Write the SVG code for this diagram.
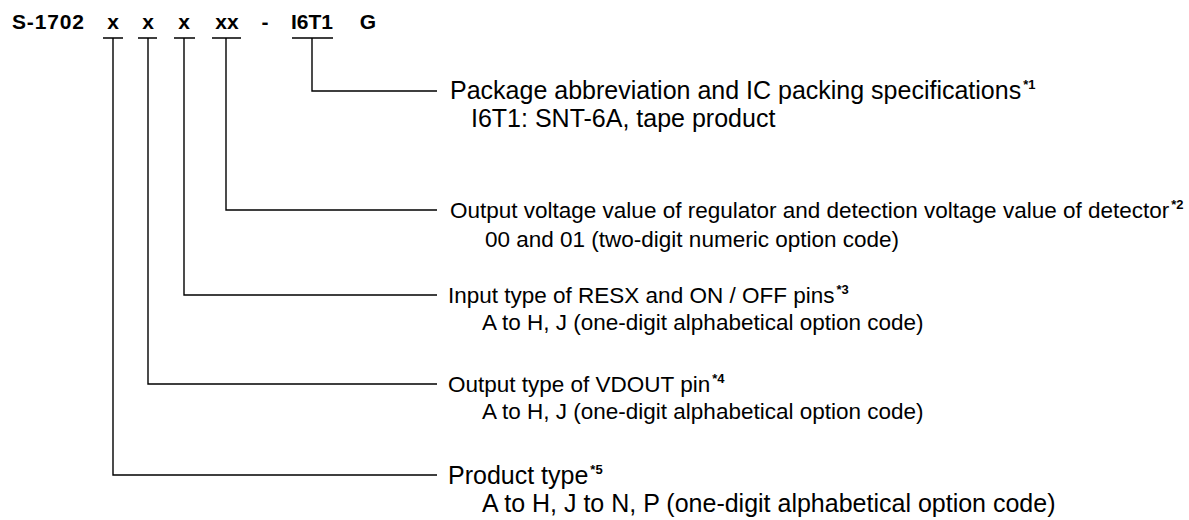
<svg xmlns="http://www.w3.org/2000/svg" width="1189" height="520" viewBox="0 0 1189 520">
<style>
text{font-family:"Liberation Sans",Arial,sans-serif;fill:#000}
.h{font-weight:bold;font-size:21px}
.t{font-size:22.5px}
.big{font-size:25px}
.sup{font-weight:bold;font-size:13px}
.ln{stroke:#000;stroke-width:1.4;fill:none}
</style>
<rect width="1189" height="520" fill="#fff"/>
<g id="header">
<text class="h" x="12" y="29" textLength="72">S-1702</text>
<text class="h" x="113" y="29" text-anchor="middle">x</text>
<text class="h" x="148" y="29" text-anchor="middle">x</text>
<text class="h" x="184" y="29" text-anchor="middle">x</text>
<text class="h" x="227" y="29" text-anchor="middle">xx</text>
<text class="h" x="265" y="29" text-anchor="middle">-</text>
<text class="h" x="312" y="29" text-anchor="middle">I6T1</text>
<text class="h" x="368" y="29" text-anchor="middle">G</text>
</g>
<g id="connectors" class="ln">
<path d="M103,38H123M138,38H157M174,38H195M212,38H241M292,38H333"/>
<path d="M312,38V91H437"/>
<path d="M226,38V210H437"/>
<path d="M184,38V295H437"/>
<path d="M148,38V384H437"/>
<path d="M113,38V475H437"/>
</g>
<g id="pkg">
<text class="big" x="450" y="99">Package abbreviation and IC packing specifications<tspan class="sup" dx="2" dy="-10">*1</tspan></text>
<text class="big" x="471" y="127">I6T1: SNT-6A, tape product</text>
</g>
<g id="vout">
<text class="t" x="450" y="218">Output voltage value of regulator and detection voltage value of detector<tspan class="sup" dx="2" dy="-9">*2</tspan></text>
<text class="t" x="485" y="247">00 and 01 (two-digit numeric option code)</text>
</g>
<g id="input">
<text class="t" x="448" y="303">Input type of RESX and ON / OFF pins<tspan class="sup" dx="2" dy="-9">*3</tspan></text>
<text class="t" x="482" y="330">A to H, J (one-digit alphabetical option code)</text>
</g>
<g id="vdout">
<text class="t" x="448" y="392">Output type of VDOUT pin<tspan class="sup" dx="2" dy="-9">*4</tspan></text>
<text class="t" x="482" y="419">A to H, J (one-digit alphabetical option code)</text>
</g>
<g id="ptype">
<text class="big" x="448" y="484">Product type<tspan class="sup" dx="2" dy="-10">*5</tspan></text>
<text class="big" x="482" y="512">A to H, J to N, P (one-digit alphabetical option code)</text>
</g>
</svg>
